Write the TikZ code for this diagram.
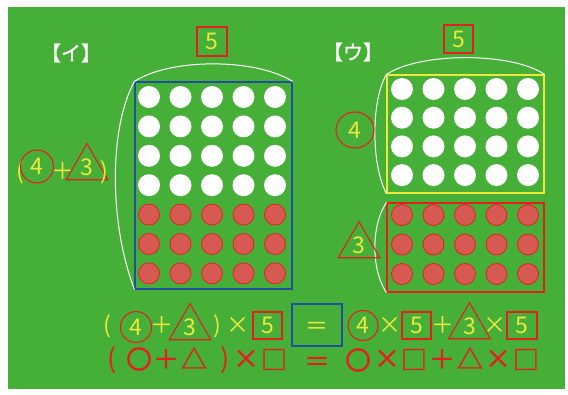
\documentclass[tikz,border=0pt]{standalone}
\usepackage{fontspec}
\setmainfont{Noto Sans CJK JP}
\newfontfamily\jpbold{Noto Sans CJK JP}[FakeBold=1.2]
\usetikzlibrary{shapes.geometric}
\definecolor{bggreen}{RGB}{70,175,56}
\definecolor{yel}{RGB}{238,232,60}
\definecolor{rd}{RGB}{228,32,30}
\definecolor{dotrd}{RGB}{214,90,82}
\definecolor{navy}{RGB}{32,78,160}
\newcommand\fsz[1]{\fontsize{#1}{#1}\selectfont}

\begin{document}
\begin{tikzpicture}[x=1pt,y=-1pt]
  \tikzset{
    num/.style={text=yel, font=\fsz{23}, inner sep=0pt},
    sym/.style={text=rd, font=\jpbold\fsz{26}, inner sep=0pt},
    par/.style={text=rd, font=\fsz{27}, inner sep=0pt},
    hdr/.style={text=white, font=\jpbold\fsz{20}, inner sep=0pt},
    ring/.style={num, draw=rd, line width=1.1pt, circle},
    tri/.style={num, draw=rd, line width=1.1pt, regular polygon, regular polygon sides=3},
    nbox/.style={num, draw=rd, line width=1.1pt, minimum width=29pt, minimum height=27pt},
    grp/.style={line width=1.1pt, inner sep=0pt, minimum width=157pt},
    wdot/.style={circle, fill=white, minimum size=22pt, inner sep=0pt},
    rdot/.style={circle, fill=dotrd, draw=rd, line width=0.8pt, minimum size=21pt, inner sep=0pt},
    curv/.style={white, line width=1pt}
  }
  \useasboundingbox (0,0) rectangle (568,394);
  \fill[bggreen] (8,7) rectangle (565,389);

  % groups of counters
  \node[grp, draw=navy, minimum height=207pt] (grpI) at (213.5,185.5) {};
  \node[grp, draw=yel, minimum height=118pt] (grpU) at (465.5,134) {};
  \node[grp, draw=rd, minimum height=89pt] (grpV) at (465.5,247.5) {};
  \foreach \c in {0,...,4} {
    \foreach \r in {0,...,3} \node[wdot] (iw\c\r) at (149+31.5*\c, 97+29.4*\r) {};
    \foreach \r in {0,...,2} \node[rdot] (ir\c\r) at (149+31.5*\c, 214.6+29.4*\r) {};
    \foreach \r in {0,...,3} \node[wdot] (uw\c\r) at (402+31.5*\c, 89+28.7*\r) {};
    \foreach \r in {0,...,2} \node[rdot] (ur\c\r) at (402+31.5*\c, 215+29.5*\r) {};
  }
  \draw[curv] (grpI.north west) .. controls (170,58) and (256,58) .. (grpI.north east);
  \draw[curv] (grpI.north west) .. controls (110,125) and (108,220) .. (grpI.south west);
  \draw[curv] (grpU.north west) .. controls (420,52) and (512,52) .. (grpU.north east);
  \draw[curv] (grpU.north west) .. controls (371,100) and (371,165) .. (grpU.south west);
  \draw[curv] (grpV.north west) .. controls (371,225) and (371,270) .. (grpV.south west);

  % headings and sides
  \node[hdr] (hI) at (71,53) {【イ】};
  \node[hdr] (hU) at (353,52) {【ウ】};
  \node[nbox, minimum width=30pt, minimum height=29pt] (topI) at (212,41.5) {5};
  \node[nbox, minimum width=29pt, minimum height=28pt] (topU) at (458.5,39) {5};
  \node[num] (lpo) at (20,172) {(};
  \node[ring, minimum size=33pt] (lfour) at (37,166.5) {4};
  \node[num] (lplus) at (63,171) {＋};
  \node[tri, minimum size=45pt] (lthree) at (87,167.7) {3};
  \node[num] (lpc) at (104,172) {)};
  \node[num, draw=rd, line width=1.1pt, ellipse, minimum width=38pt, minimum height=36pt] (rfour) at (355,130) {4};
  \node[tri, minimum size=45pt] (rthree) at (359,245.7) {3};

  % first line
  \node[num] (apo) at (107,326) {(};
  \node[ring, minimum size=31pt] (afour) at (136,327) {4};
  \node[num] (aplus) at (162,325) {＋};
  \node[tri, minimum size=38pt] (athree) at (190,327.7) {3};
  \node[num] (apc) at (217,326) {)};
  \node[num] (atimes) at (238,325) {×};
  \node[nbox] (afive) at (267.5,325.5) {5};
  \node[draw=navy, line width=1.1pt, minimum width=50pt, minimum height=42pt] (aeq) at (317,325) {};
  \node[num] (aeqs) at (317,328) {＝};
  \node[ring, minimum size=30pt] (bfour) at (363,325.5) {4};
  \node[num] (btimes) at (390,325) {×};
  \node[nbox] (bfive) at (416.5,325.5) {5};
  \node[num] (bplus) at (443,325) {＋};
  \node[tri, minimum size=38pt] (bthree) at (469.5,326.7) {3};
  \node[num] (btimesb) at (495,325) {×};
  \node[nbox, minimum width=30pt] (bfiveb) at (522,325.5) {5};

  % second line
  \node[par] (cpo) at (112,360) {(};
  \node[sym] (ccirc) at (139,359) {〇};
  \node[sym] (cplus) at (166,359) {＋};
  \node[sym] (ctri) at (194,358) {△};
  \node[par] (cpc) at (225,360) {)};
  \node[sym] (ctimes) at (246,359) {×};
  \node[sym] (csq) at (274,359.5) {□};
  \node[sym] (ceq) at (317,364) {＝};
  \node[sym] (dcirc) at (358,360) {〇};
  \node[sym] (dtimes) at (387,359) {×};
  \node[sym] (dsq) at (414,359.5) {□};
  \node[sym] (dplus) at (442,359) {＋};
  \node[sym] (dtri) at (470,358) {△};
  \node[sym] (dtimesb) at (498,359) {×};
  \node[sym] (dsqb) at (526,359.5) {□};
\end{tikzpicture}
\end{document}
